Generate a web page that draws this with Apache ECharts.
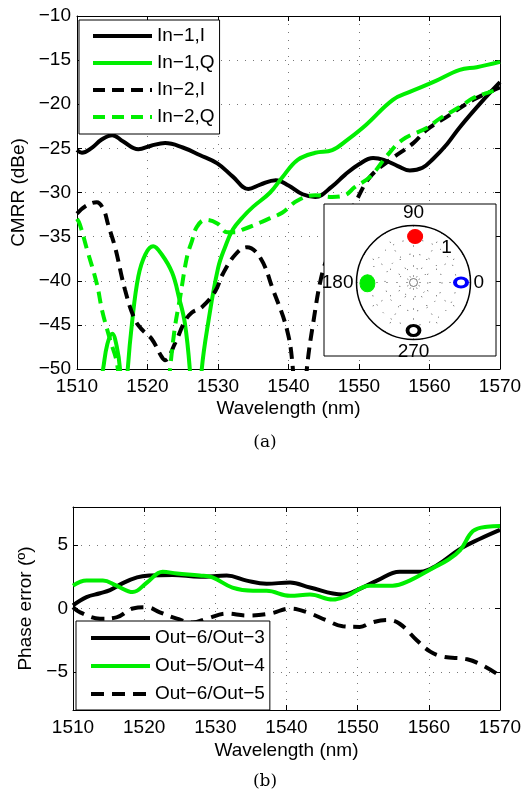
<!DOCTYPE html>
<html><head><meta charset="utf-8">
<script src="https://cdn.jsdelivr.net/npm/echarts@6/dist/echarts.min.js"></script>
<style>html,body{margin:0;padding:0;background:#fff}#c{width:525px;height:795px}</style>
</head><body><div id="c"></div>
<script>
// ---------- data (a) CMRR ----------
const wlTicks = [1510, 1520, 1530, 1540, 1550, 1560, 1570];
const cmrrTicks = [-50, -45, -40, -35, -30, -25, -20, -15, -10];
const in1I_x = [1510, 1510.7, 1512, 1513.5, 1515, 1516.5, 1518.7, 1520.5, 1522.5, 1525, 1527.4, 1529.9, 1532.1, 1534.3, 1536, 1538.2, 1540, 1542, 1543.8, 1546.2, 1548, 1550, 1552, 1553.5, 1555.5, 1557.2, 1559, 1560.5, 1562.5, 1564.3, 1567.2, 1570];
const in1I_y = [-25.2, -25.5, -25.0, -24.0, -23.5, -24.2, -25.1, -24.7, -24.4, -24.9, -25.75, -26.7, -28.2, -29.6, -29.1, -28.6, -29.2, -30.2, -30.5, -29.3, -28.0, -26.8, -26.1, -26.3, -27.0, -27.5, -27.2, -26.2, -24.5, -22.6, -19.9, -17.5];
const in1Q_x = [1510, 1512, 1513.7, 1514.3, 1515, 1515.6, 1516.1, 1516.6, 1517.2, 1517.8, 1518.7, 1519.7, 1520.8, 1522, 1523.5, 1524.5, 1525.3, 1526, 1526.8, 1527.7, 1528.6, 1530, 1531, 1532.1, 1533.5, 1535, 1537.4, 1539.1, 1541.3, 1543.8, 1546.2, 1548.4, 1550.9, 1554.8, 1557.2, 1560.5, 1564.3, 1566.7, 1570];
const in1Q_y = [-62, -58, -50, -47.2, -46.0, -47.3, -50, -58, -50, -44.8, -39.5, -37.0, -36.1, -37.0, -39.1, -42, -44.8, -50, -60, -50, -44.8, -38.6, -36.2, -34.2, -32.8, -31.6, -30.0, -28.3, -26.3, -25.5, -25.2, -24.0, -22.4, -19.5, -18.6, -17.5, -16.1, -15.8, -15.2];
const in2I_x = [1510, 1511.3, 1512.8, 1513.8, 1514.4, 1515.4, 1516.8, 1518.2, 1519.3, 1520.6, 1522, 1522.5, 1523.9, 1525.3, 1526.3, 1527.7, 1529.6, 1530.7, 1532.5, 1534.1, 1536, 1537.8, 1539.8, 1540.6, 1541.5, 1542.6, 1543.5, 1544.8, 1546, 1548, 1549.7, 1551.6, 1554.4, 1557.7, 1559.6, 1562.5, 1566.2, 1570];
const in2I_y = [-32.4, -31.5, -31.1, -32.0, -33.6, -36.2, -41.0, -44.4, -45.6, -46.6, -48.6, -49.0, -47.1, -44.6, -43.6, -43.0, -41.2, -39.2, -37.0, -36.2, -37.4, -41.0, -45.6, -49.8, -60, -50, -44.8, -39.1, -36.6, -33.5, -30.8, -28.2, -26.3, -24.4, -22.9, -21.4, -19.5, -18.1];
const in2Q_x = [1510, 1510.4, 1511.4, 1512.8, 1513.6, 1514.7, 1515.7, 1516.5, 1519.5, 1522.5, 1523.2, 1523.9, 1524.6, 1525.6, 1526.3, 1527, 1528.2, 1529.9, 1531.3, 1532.4, 1533.5, 1536, 1537.4, 1539.1, 1541.3, 1543.8, 1546.2, 1548, 1549.4, 1551.6, 1554, 1556.2, 1559.6, 1561.5, 1564.3, 1566.2, 1568.6, 1570];
const in2Q_y = [-33.0, -33.6, -36.4, -40.3, -43.5, -46.7, -49.5, -56, -65, -56, -50, -45.2, -42.0, -37.3, -35.5, -33.9, -33.1, -33.5, -34.5, -34.5, -34.2, -33.4, -32.9, -32.3, -30.9, -30.3, -30.5, -30.3, -29.4, -28.2, -25.8, -24.0, -22.7, -21.6, -20.3, -19.3, -18.6, -18.3];
// inset constellation (radius, angle in degrees)
const polarR = [1.0, 0.97, 0.97, 1.01];
const polarAngle = [0, 88, 181, 270];
// ---------- data (b) phase error ----------
const phaseTicks = [-5, 0, 5];
const o63_x = [1510, 1511.9, 1513.8, 1515.2, 1517, 1519, 1520.8, 1524, 1527.8, 1531.6, 1534.4, 1537.2, 1540.5, 1543.3, 1547.9, 1550.3, 1552.7, 1555.9, 1558.8, 1561.1, 1564.4, 1567.2, 1570];
const o63_y = [0.25, 0.9, 1.2, 1.45, 2.0, 2.45, 2.6, 2.65, 2.5, 2.6, 2.2, 1.95, 2.05, 1.65, 1.1, 1.55, 2.2, 2.9, 2.9, 3.4, 4.7, 5.5, 6.2];
const o54_x = [1510, 1511.9, 1514.2, 1516.1, 1518.4, 1520.4, 1522.6, 1524.6, 1527.8, 1529.6, 1532.4, 1535.3, 1537.2, 1540.5, 1543.3, 1546.5, 1548.5, 1551.7, 1554.9, 1557.3, 1560.6, 1562.6, 1564.4, 1566.2, 1568.2, 1570];
const o54_y = [1.8, 2.2, 2.2, 1.8, 1.3, 2.05, 2.9, 2.75, 2.6, 2.45, 1.65, 1.4, 1.4, 1.0, 1.1, 0.7, 1.0, 1.8, 1.8, 2.2, 3.2, 3.8, 4.6, 6.1, 6.45, 6.5];
const o65_x = [1510, 1511, 1513.8, 1516.1, 1518.4, 1520.4, 1522.2, 1524.6, 1526.8, 1528.8, 1531.6, 1534.4, 1537.7, 1540.5, 1542.9, 1545.7, 1547.9, 1550.3, 1552, 1554.1, 1555.9, 1558.3, 1560.2, 1562, 1565.4, 1567.6, 1570];
const o65_y = [0.1, -0.3, -0.8, -0.7, 0.0, 0.1, -0.3, -0.8, -1.1, -0.8, -0.4, -0.55, -0.4, 0.0, -0.3, -0.95, -1.4, -1.45, -1.1, -0.9, -1.2, -2.5, -3.4, -3.8, -4.0, -4.5, -5.3];

const zip = (xs, ys) => xs.map((x, i) => [x, ys[i]]);
const FONT = 'Liberation Sans';
const GREEN = '#00ee00';
const DASH = [12, 7];
const minus = v => String(v).replace('-', '\u2212');
const gridLine = {show: true, lineStyle: {type: [1, 7], color: '#777', width: 1}};
const lbl = (m) => ({color: '#000', fontFamily: FONT, fontSize: 19, margin: m, formatter: minus});
const axLine = {show: true, onZero: false, lineStyle: {color: '#000', width: 1}};
const tick = {show: true, inside: true, length: 5, lineStyle: {color: '#000'}};

function xAxes(gi, nameGap) {
  return [
    {type: 'value', gridIndex: gi, min: 1510, max: 1570, interval: 10, position: 'bottom',
     axisLine: axLine, axisTick: tick, splitLine: gridLine, axisLabel: lbl(8),
     name: 'Wavelength (nm)', nameLocation: 'middle', nameGap: nameGap,
     nameTextStyle: {fontFamily: FONT, fontSize: 19, color: '#000'}},
    {type: 'value', gridIndex: gi, min: 1510, max: 1570, interval: 10, position: 'top',
     axisLine: axLine, axisTick: tick, splitLine: {show: false}, axisLabel: {show: false}}
  ];
}

const series = [
  {name: 'In\u22121,I', data: zip(in1I_x, in1I_y), color: '#000', dash: 'solid', g: 0},
  {name: 'In\u22121,Q', data: zip(in1Q_x, in1Q_y), color: GREEN, dash: 'solid', g: 0},
  {name: 'In\u22122,I', data: zip(in2I_x, in2I_y), color: '#000', dash: DASH, g: 0},
  {name: 'In\u22122,Q', data: zip(in2Q_x, in2Q_y), color: GREEN, dash: DASH, g: 0},
  {name: 'Out\u22126/Out\u22123', data: zip(o63_x, o63_y), color: '#000', dash: 'solid', g: 1},
  {name: 'Out\u22125/Out\u22124', data: zip(o54_x, o54_y), color: GREEN, dash: 'solid', g: 1},
  {name: 'Out\u22126/Out\u22125', data: zip(o65_x, o65_y), color: '#000', dash: [13, 8], g: 1}
].map(s => ({
  name: s.name, type: 'line', xAxisIndex: s.g * 2, yAxisIndex: s.g * 2, data: s.data,
  smooth: 0.4, symbol: 'none', showSymbol: false, clip: true, animation: false, z: 2,
  itemStyle: {color: s.color}, lineStyle: {color: s.color, width: 4, type: s.dash}
}));

const polarColors = ['#0000ff', '#ff0000', GREEN, '#000'];
const polarFill = ['#fff', '#ff0000', GREEN, '#fff'];
const polarSizes = [[12, 9], [15, 14], [15, 17], [12, 10]];
const polarBorders = [3.5, 1, 1, 3.5];
polarR.forEach((r, i) => {
  series.push({type: 'scatter', coordinateSystem: 'polar', polarIndex: 0, z: 25, animation: false,
    symbol: 'circle', symbolSize: polarSizes[i], data: [[r, polarAngle[i]]],
    itemStyle: {color: polarFill[i], borderColor: polarColors[i], borderWidth: polarBorders[i], opacity: 1}});
});
series.push({type: 'scatter', coordinateSystem: 'polar', polarIndex: 0, z: 24, animation: false,
  symbol: 'circle', symbolSize: 8, data: [[0, 0]],
  itemStyle: {color: '#fff', borderColor: '#555', borderWidth: 1}});

const legendBase = {
  orient: 'vertical', itemWidth: 59, itemHeight: 20, borderColor: '#000', borderWidth: 1,
  backgroundColor: '#fff', borderRadius: 0, selectedMode: false, z: 5,
  textStyle: {fontFamily: FONT, fontSize: 19, color: '#000', lineHeight: 20},
  itemStyle: {opacity: 0},
  lineStyle: {width: 4}
};

const option = {
  animation: false,
  backgroundColor: '#fff',
  grid: [
    {left: 77, top: 16, width: 423, height: 353},
    {left: 73, top: 507, width: 427, height: 203}
  ],
  xAxis: [...xAxes(0, 30), ...xAxes(1, 31)],
  yAxis: [
    {type: 'value', gridIndex: 0, min: -50, max: -10, interval: 5, position: 'left',
     axisLine: axLine, axisTick: tick, splitLine: gridLine, axisLabel: lbl(6),
     name: 'CMRR (dBe)', nameLocation: 'middle', nameGap: 48,
     nameTextStyle: {fontFamily: FONT, fontSize: 19, color: '#000'}},
    {type: 'value', gridIndex: 0, min: -50, max: -10, interval: 5, position: 'right',
     axisLine: axLine, axisTick: tick, splitLine: {show: false}, axisLabel: {show: false}},
    {type: 'value', gridIndex: 1, min: -8, max: 8, position: 'left',
     axisLine: axLine, axisTick: Object.assign({}, tick, {customValues: phaseTicks}),
     splitLine: gridLine, axisLabel: Object.assign(lbl(5), {customValues: phaseTicks}),
     name: 'Phase error (\u00ba)', nameLocation: 'middle', nameGap: 38,
     nameTextStyle: {fontFamily: FONT, fontSize: 19, color: '#000'}},
    {type: 'value', gridIndex: 1, min: -8, max: 8, position: 'right',
     axisLine: axLine, axisTick: Object.assign({}, tick, {customValues: phaseTicks}),
     splitLine: {show: false}, axisLabel: {show: false}}
  ],
  polar: [{center: [413.5, 282.5], radius: 57}],
  angleAxis: [{polarIndex: 0, type: 'value', min: 0, max: 360, interval: 30, startAngle: 0, clockwise: false, z: 20,
    axisLine: {show: true, lineStyle: {color: '#000', width: 1.5}}, axisTick: {show: false},
    splitLine: {show: true, lineStyle: {type: [1, 9], color: '#444', width: 1}},
    axisLabel: {show: true, customValues: [0, 90, 180, 270], margin: 3, color: '#000', fontFamily: FONT, fontSize: 19}}],
  radiusAxis: [{polarIndex: 0, type: 'value', min: 0, max: 1.2, interval: 0.3, z: 20,
    axisLine: {show: false}, axisTick: {show: false}, axisLabel: {show: false},
    splitLine: {show: true, lineStyle: {type: [1, 9], color: '#444', width: 1}}}],
  legend: [
    Object.assign({}, legendBase, {left: 79, top: 20, padding: [6, 5, 7, 12], itemGap: 7,
      data: ['In\u22121,I', 'In\u22121,Q', 'In\u22122,I', 'In\u22122,Q']}),
    Object.assign({}, legendBase, {left: 76, top: 621, padding: [7, 5, 6, 13], itemGap: 8,
      data: ['Out\u22126/Out\u22123', 'Out\u22125/Out\u22124', 'Out\u22126/Out\u22125']})
  ],
  graphic: [
    {type: 'rect', z: 10, shape: {x: 324, y: 204, width: 172, height: 152},
     style: {fill: '#fff', stroke: '#000', lineWidth: 1}},
    {type: 'text', z: 30, x: 446.5, y: 247.5,
     style: {text: '1', font: '19px "Liberation Sans"', fill: '#000', align: 'center', verticalAlign: 'middle'}},
    {type: 'text', z: 30, x: 265, y: 443,
     style: {text: '(a)', font: '17px "DejaVu Serif"', fill: '#000', align: 'center', verticalAlign: 'middle'}},
    {type: 'text', z: 30, x: 265, y: 782,
     style: {text: '(b)', font: '17px "DejaVu Serif"', fill: '#000', align: 'center', verticalAlign: 'middle'}}
  ],
  series: series
};
const chart = echarts.init(document.getElementById('c'), null, {renderer: 'canvas'});
chart.setOption(option);
</script>
</body></html>
